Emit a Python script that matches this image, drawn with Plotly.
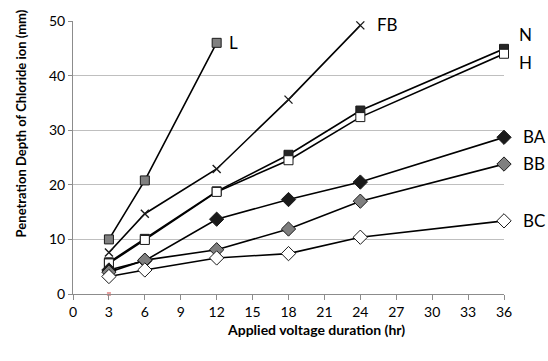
import plotly.graph_objects as go

hours = [3, 6, 12, 18, 24, 36]
L_hours = [3, 6, 12]
L_vals = [10.0, 20.8, 46.0]
FB_hours = [3, 6, 12, 18, 24]
FB_vals = [7.6, 14.7, 22.9, 35.6, 49.2]
N_vals = [5.8, 10.1, 18.8, 25.5, 33.6, 44.9]
H_vals = [5.6, 9.9, 18.7, 24.5, 32.4, 44.0]
BA_vals = [4.4, 6.1, 13.7, 17.3, 20.5, 28.7]
BB_vals = [4.0, 6.2, 8.1, 11.9, 17.0, 23.8]
BC_vals = [3.2, 4.4, 6.6, 7.4, 10.4, 13.4]

labels = [("L", 12.9, 46.0), ("FB", 25.2, 49.3), ("N", 37.1, 47.6), ("H", 37.1, 42.4),
          ("BA", 37.4, 28.8), ("BB", 37.4, 23.9), ("BC", 37.4, 13.4)]

X_MAX, Y_MAX = 36, 50
W, H = 548, 361
ML, MR, MT, MB = 73, 44, 14, 67
PW, PH = W - ML - MR, H - MT - MB

font_family = "Lato, 'Open Sans', sans-serif"
fig = go.Figure()

def add(x, y, symbol, fill, size=9, lw=1.0):
    fig.add_trace(go.Scatter(
        x=x, y=y, mode="lines+markers",
        line=dict(color="black", width=1.6),
        marker=dict(symbol=symbol, size=size, color=fill,
                    line=dict(color="#1a1a1a", width=lw)),
        showlegend=False, cliponaxis=False))

add(L_hours, L_vals, "square", "#808080", 9)
add(FB_hours, FB_vals, "x-thin", "black", 8, 1.4)
add(hours, N_vals, "square", "#262626", 9)
add(hours, H_vals, "square", "white", 9)
add(hours, BA_vals, "diamond", "#1a1a1a", 11)
add(hours, BB_vals, "diamond", "#7f7f7f", 11)
add(hours, BC_vals, "diamond", "white", 11)

# small pink marker at the base
fig.add_trace(go.Scatter(x=[3], y=[0], mode="markers",
                         marker=dict(symbol="square", size=4, color="#e8a0a0"),
                         showlegend=False, cliponaxis=False))

for t, x, y in labels:
    fig.add_annotation(x=x / X_MAX, y=y / Y_MAX, xref="paper", yref="paper", text=t,
                       showarrow=False, xanchor="left", yanchor="middle",
                       font=dict(size=17, color="black", family=font_family))

fig.add_annotation(x=(316 - ML) / PW, y=-(330 - (H - MB)) / PH, xref="paper", yref="paper",
                   text="<b>Applied voltage duration (hr)</b>", showarrow=False,
                   xanchor="center", yanchor="middle",
                   font=dict(size=14, color="black", family=font_family))
fig.add_annotation(x=(21 - ML) / PW, y=1 - (119 - MT) / PH, xref="paper", yref="paper",
                   text="<b>Penetration Depth of Chloride ion (mm)</b>", showarrow=False,
                   textangle=-90, xanchor="center", yanchor="middle",
                   font=dict(size=13, color="black", family=font_family))

fig.update_layout(
    width=W, height=H,
    margin=dict(l=ML, r=MR, t=MT, b=MB),
    plot_bgcolor="white", paper_bgcolor="white",
    font=dict(family=font_family, size=14, color="black"),
    xaxis=dict(range=[0, X_MAX], tickmode="array", tickvals=list(range(0, 37, 3)),
               showgrid=False, zeroline=False, showline=True, linecolor="#8c8c8c",
               ticks="outside", ticklen=5, tickcolor="#8c8c8c"),
    yaxis=dict(range=[0, Y_MAX], tickvals=[0, 10, 20, 30, 40, 50],
               showgrid=True, gridcolor="#bfbfbf", gridwidth=1, zeroline=False,
               showline=True, linecolor="#8c8c8c", ticks="outside", ticklen=4,
               tickcolor="#8c8c8c"),
)

fig.write_html("out.html")
